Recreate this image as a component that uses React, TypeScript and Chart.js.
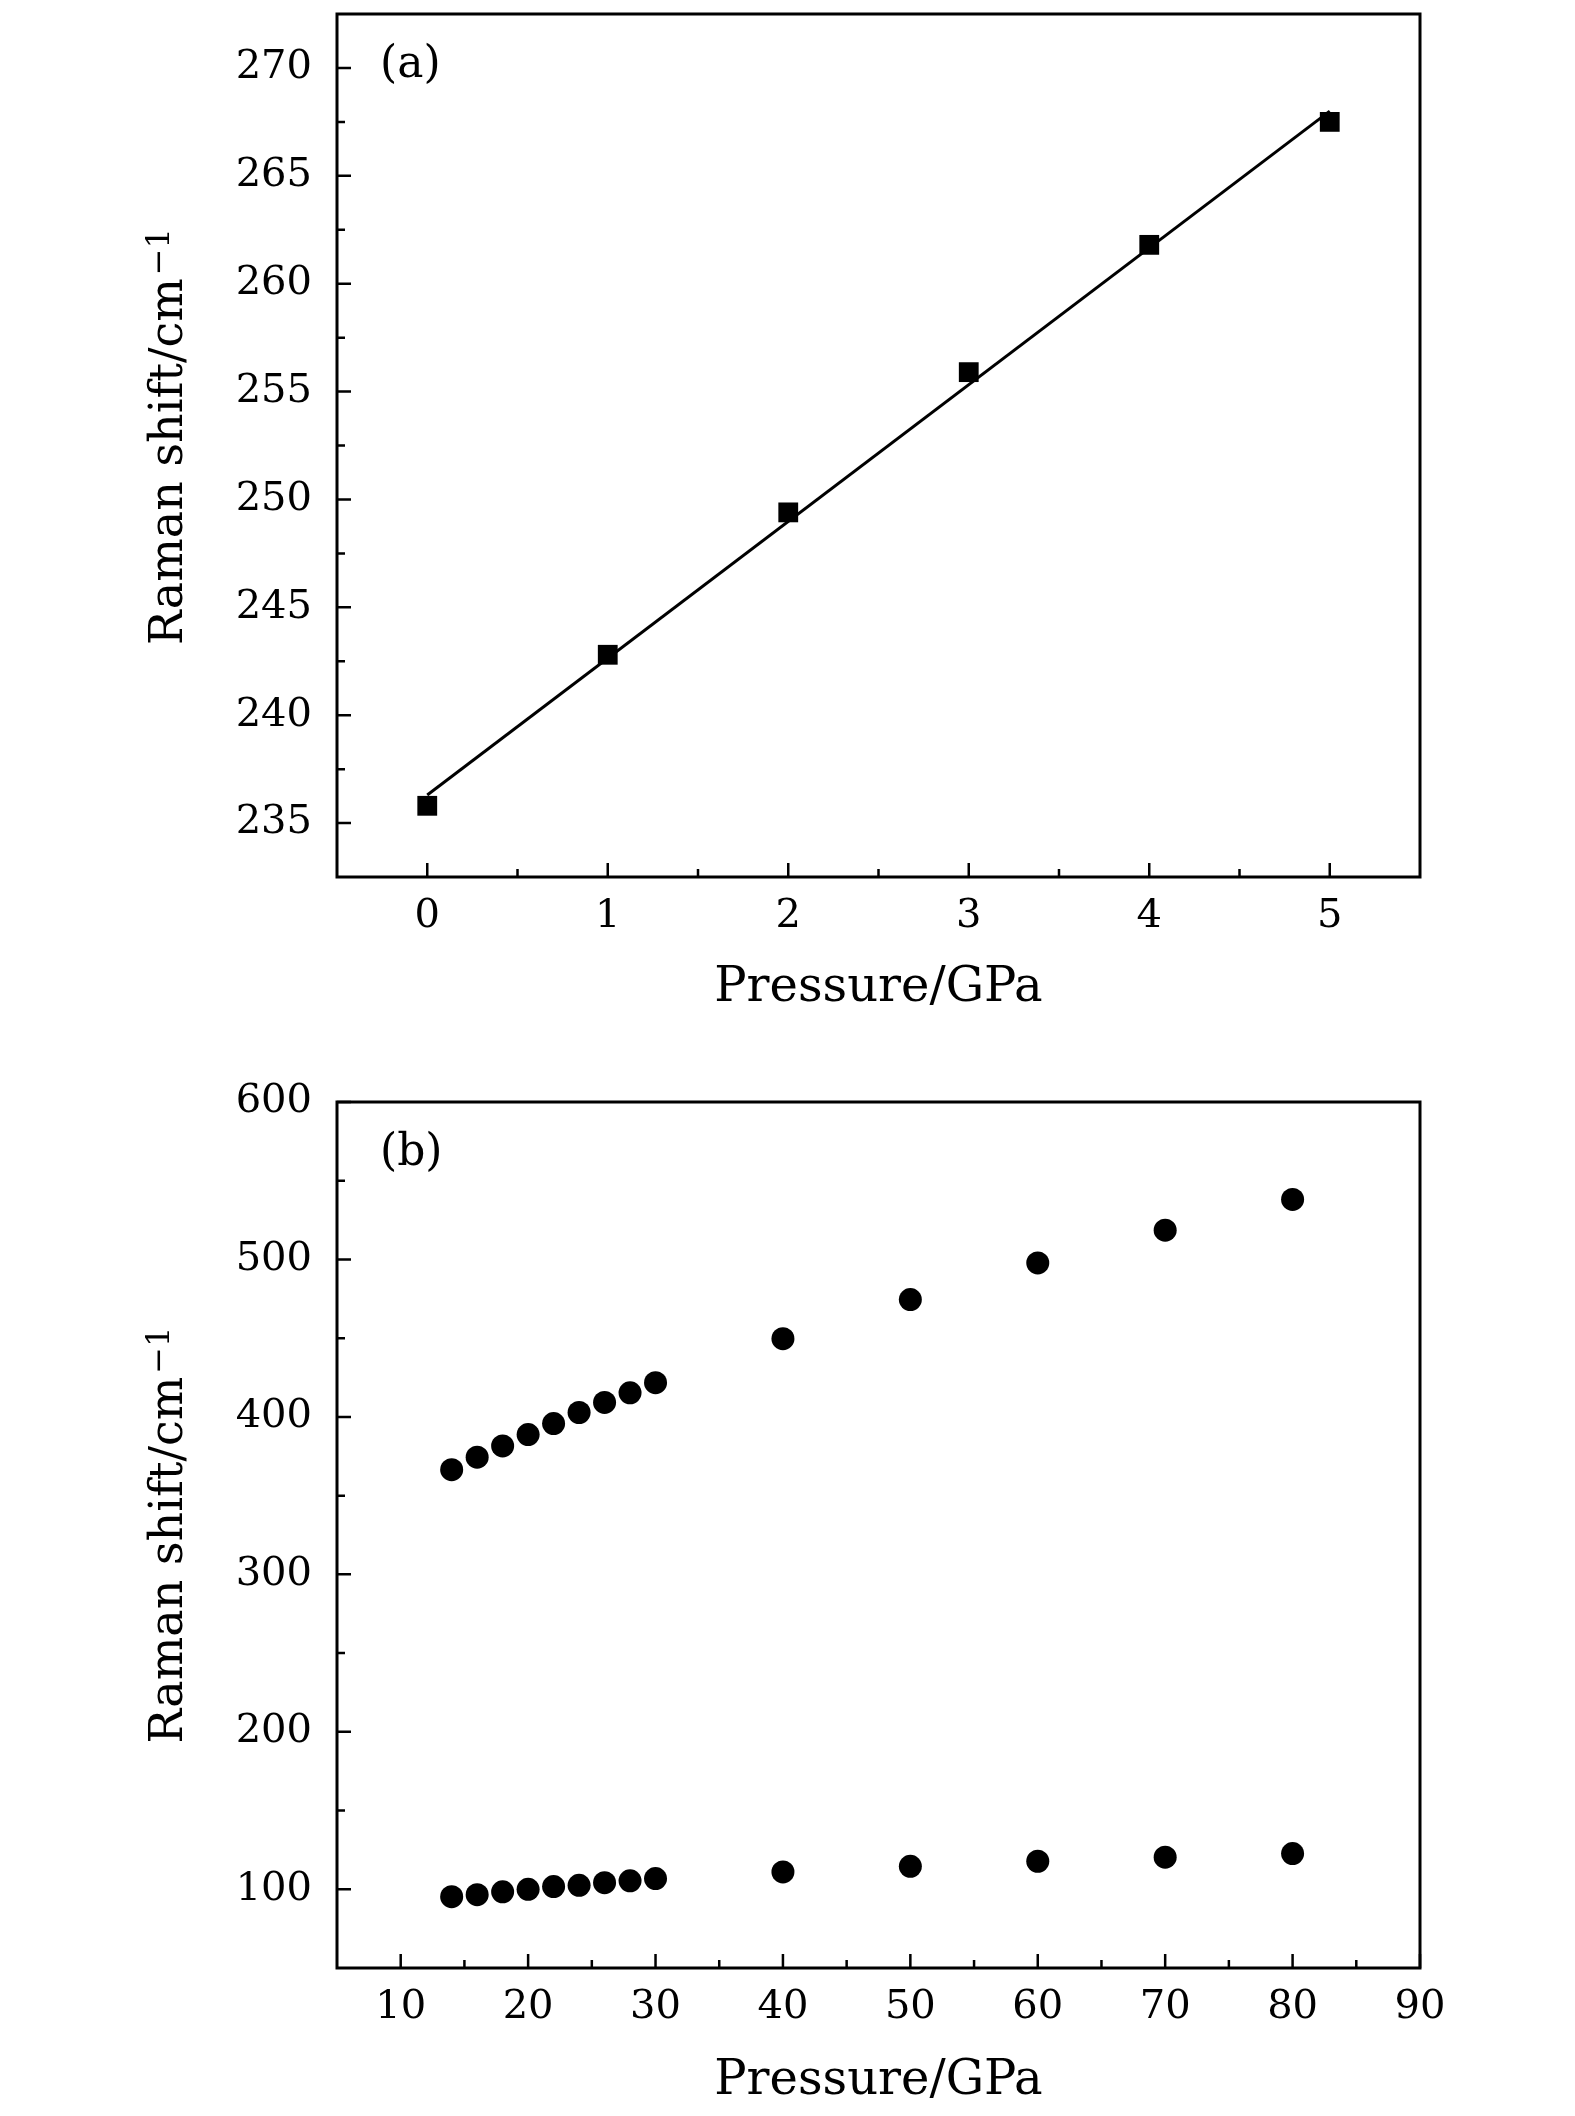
import { useEffect, useRef } from 'react';
import { Chart, registerables } from 'chart.js';

Chart.register(...registerables);

// panel (a): 0-5 GPa, squares + linear fit
const pressureA = [0, 1, 2, 3, 4, 5];
const shiftA = [235.8, 242.8, 249.4, 255.9, 261.8, 267.5];
const fitPressure = [0, 5];
const fitShift = [236.3, 268.0];
const xTicksA = [0, 1, 2, 3, 4, 5];
const xMinorA = [0.5, 1.5, 2.5, 3.5, 4.5];
const yTicksA = [235, 240, 245, 250, 255, 260, 265, 270];
const yMinorA = [237.5, 242.5, 247.5, 252.5, 257.5, 262.5, 267.5];

// panel (b): 14-80 GPa, two modes
const pressureB = [14, 16, 18, 20, 22, 24, 26, 28, 30, 40, 50, 60, 70, 80];
const highModeB = [366.5, 374.4, 381.6, 388.8, 395.8, 402.8, 409.2, 415.3, 421.7, 449.7, 474.5, 497.8, 518.6, 538.1];
const lowModeB = [95.3, 96.6, 98.4, 100.0, 101.7, 102.5, 104.2, 105.4, 106.8, 111.0, 114.6, 117.8, 120.4, 122.7];
const xTicksB = [10, 20, 30, 40, 50, 60, 70, 80, 90];
const xMinorB = [15, 25, 35, 45, 55, 65, 75, 85];
const yTicksB = [100, 200, 300, 400, 500, 600];
const yMinorB = [150, 250, 350, 450, 550];

const W = 1575;
const H = 1058;
const FONT = "'DejaVu Serif', 'Liberation Serif', serif";

interface PanelProps {
  label: string;
  datasets: any[];
  xRange: [number, number];
  yRange: [number, number];
  xTicks: number[];
  xMinor: number[];
  yTicks: number[];
  yMinor: number[];
  areaTop: number;
  areaBottom: number;
  titlePad: number;
  titleShift: number;
}

function Panel({ label, datasets, xRange, yRange, xTicks, xMinor, yTicks, yMinor, areaTop, areaBottom, titlePad, titleShift }: PanelProps) {
  const canvasRef = useRef<HTMLCanvasElement>(null);

  useEffect(() => {
    if (!canvasRef.current) return;

    const decor = {
      id: 'decor',
      afterDraw(chart: any) {
        const { ctx, chartArea: a, scales } = chart;
        ctx.save();
        ctx.strokeStyle = '#000';
        ctx.fillStyle = '#000';

        // inward ticks on left and bottom
        ctx.lineWidth = 2.5;
        ctx.beginPath();
        yTicks.forEach(v => {
          const py = scales.y.getPixelForValue(v);
          ctx.moveTo(a.left, py);
          ctx.lineTo(a.left + 14, py);
        });
        yMinor.forEach(v => {
          const py = scales.y.getPixelForValue(v);
          ctx.moveTo(a.left, py);
          ctx.lineTo(a.left + 8, py);
        });
        xTicks.forEach(v => {
          const px = scales.x.getPixelForValue(v);
          ctx.moveTo(px, a.bottom);
          ctx.lineTo(px, a.bottom - 14);
        });
        xMinor.forEach(v => {
          const px = scales.x.getPixelForValue(v);
          ctx.moveTo(px, a.bottom);
          ctx.lineTo(px, a.bottom - 8);
        });
        ctx.stroke();

        ctx.lineWidth = 3;
        ctx.strokeRect(a.left, a.top, a.right - a.left, a.bottom - a.top);

        // panel label
        ctx.font = `44px ${FONT}`;
        ctx.textAlign = 'left';
        ctx.textBaseline = 'middle';
        ctx.fillText(label, a.left + 43, a.top + 52);

        // y title with superscript
        const main = 'Raman shift/cm';
        const sup = '\u22121';
        ctx.font = `46px ${FONT}`;
        const wMain = ctx.measureText(main).width;
        ctx.font = `32px ${FONT}`;
        const wSup = ctx.measureText(sup).width;
        const total = wMain + 3 + wSup;
        ctx.translate(182, (a.top + a.bottom) / 2 + titleShift);
        ctx.rotate(-Math.PI / 2);
        ctx.textBaseline = 'alphabetic';
        ctx.font = `46px ${FONT}`;
        ctx.fillText(main, -total / 2, 0);
        ctx.font = `32px ${FONT}`;
        ctx.fillText(sup, -total / 2 + wMain + 3, -13);
        ctx.restore();
      },
    };

    const chart = new Chart(canvasRef.current, {
      type: 'scatter',
      data: { datasets },
      options: {
        animation: false,
        responsive: false,
        devicePixelRatio: 1,
        layout: { padding: { left: 0, right: W - 1420, top: areaTop, bottom: 0 } },
        plugins: { legend: { display: false }, tooltip: { enabled: false } },
        scales: {
          x: {
            type: 'linear',
            min: xRange[0],
            max: xRange[1],
            afterBuildTicks: (s: any) => { s.ticks = xTicks.map(v => ({ value: v })); },
            afterFit: (s: any) => {
              s.height = H - areaBottom;
              s.paddingLeft = 0;
              s.paddingRight = 0;
            },
            grid: { display: false, drawTicks: false },
            border: { display: false },
            ticks: {
              color: '#000',
              font: { family: FONT, size: 40 },
              padding: 16,
              maxRotation: 0,
              autoSkip: false,
              callback: (v: any) => String(v),
            },
            title: {
              display: true,
              text: 'Pressure/GPa',
              color: '#000',
              font: { family: FONT, size: 48 },
              padding: { top: 0, bottom: titlePad },
            },
          },
          y: {
            type: 'linear',
            min: yRange[0],
            max: yRange[1],
            afterBuildTicks: (s: any) => { s.ticks = yTicks.map(v => ({ value: v })); },
            afterFit: (s: any) => {
              s.width = 337;
              s.paddingTop = 0;
              s.paddingBottom = 0;
            },
            grid: { display: false, drawTicks: false },
            border: { display: false },
            ticks: {
              color: '#000',
              font: { family: FONT, size: 40 },
              padding: 25,
              autoSkip: false,
              callback: (v: any) => String(v),
            },
          },
        },
      },
      plugins: [decor],
    });

    return () => chart.destroy();
  }, []);

  return <canvas ref={canvasRef} width={W} height={H} style={{ display: 'block', width: W, height: H }} />;
}

export default function App() {
  const datasetsA = [
    {
      label: 'Raman shift',
      data: pressureA.map((x, i) => ({ x, y: shiftA[i] })),
      pointStyle: 'rect',
      pointRadius: 14,
      pointBorderWidth: 0,
      backgroundColor: '#000',
      borderColor: '#000',
    },
    {
      label: 'Linear fit',
      data: fitPressure.map((x, i) => ({ x, y: fitShift[i] })),
      showLine: true,
      pointRadius: 0,
      borderWidth: 3,
      borderColor: '#000',
    },
  ];

  const datasetsB = [
    {
      label: 'High mode',
      data: pressureB.map((x, i) => ({ x, y: highModeB[i] })),
      pointStyle: 'circle',
      pointRadius: 11.5,
      pointBorderWidth: 0,
      backgroundColor: '#000',
      borderColor: '#000',
    },
    {
      label: 'Low mode',
      data: pressureB.map((x, i) => ({ x, y: lowModeB[i] })),
      pointStyle: 'circle',
      pointRadius: 11.5,
      pointBorderWidth: 0,
      backgroundColor: '#000',
      borderColor: '#000',
    },
  ];

  return (
    <div style={{ position: 'absolute', top: 0, left: 0, width: W, height: 2116, background: '#fff' }}>
      <Panel
        label="(a)"
        datasets={datasetsA}
        xRange={[-0.5, 5.5]}
        yRange={[232.5, 272.5]}
        xTicks={xTicksA}
        xMinor={xMinorA}
        yTicks={yTicksA}
        yMinor={yMinorA}
        areaTop={11}
        areaBottom={877}
        titlePad={41}
        titleShift={-9}
      />
      <Panel
        label="(b)"
        datasets={datasetsB}
        xRange={[5, 90]}
        yRange={[50, 600]}
        xTicks={xTicksB}
        xMinor={xMinorB}
        yTicks={yTicksB}
        yMinor={yMinorB}
        areaTop={44}
        areaBottom={910}
        titlePad={6}
        titleShift={0}
      />
    </div>
  );
}
